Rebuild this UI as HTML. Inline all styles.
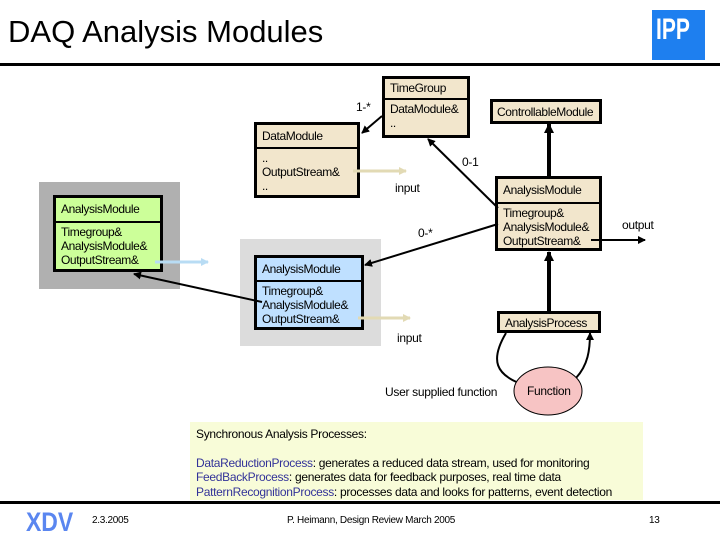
<!DOCTYPE html>
<html><head><meta charset="utf-8"><style>
body{margin:0;width:720px;height:540px;background:#fff;position:relative;overflow:hidden;font-family:"Liberation Sans",sans-serif}
.a{position:absolute}
.t{position:absolute;font-size:12px;line-height:14px;color:#000;white-space:nowrap;letter-spacing:-0.3px}
.box{position:absolute;border:3px solid #000;box-sizing:border-box;background:#f2e6cc;letter-spacing:-0.4px;white-space:nowrap}
.hd{border-bottom:2px solid #000;padding:2px 5px;font-size:12px;height:21px;box-sizing:border-box}
.bd{padding:2px 5px;font-size:12px;line-height:14px}
.lk{color:#333399}
</style></head><body>
<div class="t" style="left:8px;top:14px;font-size:31px;line-height:36px;letter-spacing:0">DAQ Analysis Modules</div>
<div class="a" style="left:652px;top:10px;width:53px;height:50px;background:#1e7fef"></div>
<div class="a" style="left:656px;top:12px;color:#fff;font:bold 30px/36px 'Liberation Sans',sans-serif;transform:scaleX(0.7);transform-origin:left">IPP</div>
<div class="a" style="left:0;top:63px;width:720px;height:3px;background:#000"></div>

<div class="a" style="left:39px;top:182px;width:141px;height:107px;background:#b0b0b0"></div>
<div class="a" style="left:240px;top:239px;width:141px;height:107px;background:#dcdcdc"></div>
<div class="a" style="left:190px;top:422px;width:453px;height:78px;background:#f8fcd8"></div>

<div class="box" style="left:382px;top:76px;width:88px;height:62px"><div class="hd">TimeGroup</div><div class="bd">DataModule&amp;<br>..</div></div>
<div class="box" style="left:490px;top:99px;width:112px;height:25px"><div class="bd" style="padding:3px 4px">ControllableModule</div></div>
<div class="box" style="left:254px;top:122px;width:106px;height:76px"><div class="hd" style="height:24px;padding-top:4px">DataModule</div><div class="bd">..<br>OutputStream&amp;<br>..</div></div>
<div class="box" style="left:495px;top:176px;width:107px;height:75px"><div class="hd" style="height:25px;padding-top:4px">AnalysisModule</div><div class="bd">Timegroup&amp;<br>AnalysisModule&amp;<br>OutputStream&amp;</div></div>
<div class="box" style="left:254px;top:255px;width:110px;height:75px;background:#bfe0ff"><div class="hd" style="height:24px;padding-top:4px">AnalysisModule</div><div class="bd">Timegroup&amp;<br>AnalysisModule&amp;<br>OutputStream&amp;</div></div>
<div class="box" style="left:53px;top:195px;width:110px;height:77px;background:#ccff99"><div class="hd" style="height:25px;padding-top:4px">AnalysisModule</div><div class="bd">Timegroup&amp;<br>AnalysisModule&amp;<br>OutputStream&amp;</div></div>
<div class="box" style="left:497px;top:311px;width:104px;height:22px"><div class="bd" style="padding-top:2px">AnalysisProcess</div></div>

<svg class="a" style="left:0;top:0" width="720" height="540">
<defs>
<marker id="m" markerWidth="8" markerHeight="8" refX="7" refY="4" orient="auto" markerUnits="userSpaceOnUse"><path d="M0,0L8,4L0,8z" fill="#000"/></marker>
<marker id="mb" markerWidth="10" markerHeight="10" refX="9" refY="5" orient="auto" markerUnits="userSpaceOnUse"><path d="M0,0L10,5L0,10z" fill="#000"/></marker>
<marker id="mp" markerWidth="8" markerHeight="8" refX="7" refY="4" orient="auto" markerUnits="userSpaceOnUse"><path d="M0,0L8,4L0,8z" fill="#e2dab4"/></marker>
<marker id="ml" markerWidth="8" markerHeight="8" refX="7" refY="4" orient="auto" markerUnits="userSpaceOnUse"><path d="M0,0L8,4L0,8z" fill="#b8dcf4"/></marker>
</defs>
<g stroke="#000" stroke-width="2" fill="none">
<line x1="382" y1="116" x2="362" y2="133" marker-end="url(#m)"/>
<line x1="498" y1="208" x2="428" y2="139" marker-end="url(#m)"/>
<line x1="498" y1="224" x2="365" y2="265" marker-end="url(#m)"/>
<line x1="262" y1="302" x2="134" y2="274" marker-end="url(#m)"/>
<line x1="591" y1="240" x2="645" y2="240" marker-end="url(#m)"/>
<line x1="549" y1="176" x2="549" y2="124" stroke-width="4" marker-end="url(#mb)"/>
<line x1="549" y1="311" x2="549" y2="252" stroke-width="4" marker-end="url(#mb)"/>
<path d="M506,333 C490,360 495,375 524,385" marker-end="url(#m)"/>
<path d="M576,378 C588,365 590,350 590,333" marker-end="url(#m)"/>
</g>
<line x1="353" y1="171" x2="406" y2="171" stroke="#e2dab4" stroke-width="3" marker-end="url(#mp)"/>
<line x1="358" y1="318" x2="410" y2="318" stroke="#e2dab4" stroke-width="3" marker-end="url(#mp)"/>
<line x1="155" y1="262" x2="208" y2="262" stroke="#b8dcf4" stroke-width="3" marker-end="url(#ml)"/>
<ellipse cx="548" cy="391" rx="34" ry="24" fill="#f7c4c4" stroke="#000" stroke-width="1"/>
</svg>
<div class="t" style="left:527px;top:384px">Function</div>

<div class="t" style="left:356px;top:100px">1-*</div>
<div class="t" style="left:462px;top:155px">0-1</div>
<div class="t" style="left:395px;top:181px">input</div>
<div class="t" style="left:418px;top:226px">0-*</div>
<div class="t" style="left:622px;top:218px">output</div>
<div class="t" style="left:397px;top:331px">input</div>
<div class="t" style="left:385px;top:385px">User supplied function</div>

<div class="t" style="left:196px;top:427px">Synchronous Analysis Processes:</div>
<div class="t" style="left:196px;top:456px"><span class="lk">DataReductionProcess</span>: generates a reduced data stream, used for monitoring</div>
<div class="t" style="left:196px;top:470px"><span class="lk">FeedBackProcess</span>: generates data for feedback purposes, real time data</div>
<div class="t" style="left:196px;top:485px"><span class="lk">PatternRecognitionProcess</span>: processes data and looks for patterns, event detection</div>

<div class="a" style="left:0;top:501px;width:720px;height:3px;background:#000"></div>
<div class="a" style="left:26px;top:508px;font:bold 27px/28px 'Liberation Sans',sans-serif;color:#5a86f0;transform:scaleX(0.85);transform-origin:left">XDV</div>
<div class="t" style="left:92px;top:514px;font-size:10px">2.3.2005</div>
<div class="t" style="left:287px;top:514px;font-size:10px">P. Heimann, Design Review March 2005</div>
<div class="t" style="left:649px;top:514px;font-size:10px">13</div>
</body></html>
